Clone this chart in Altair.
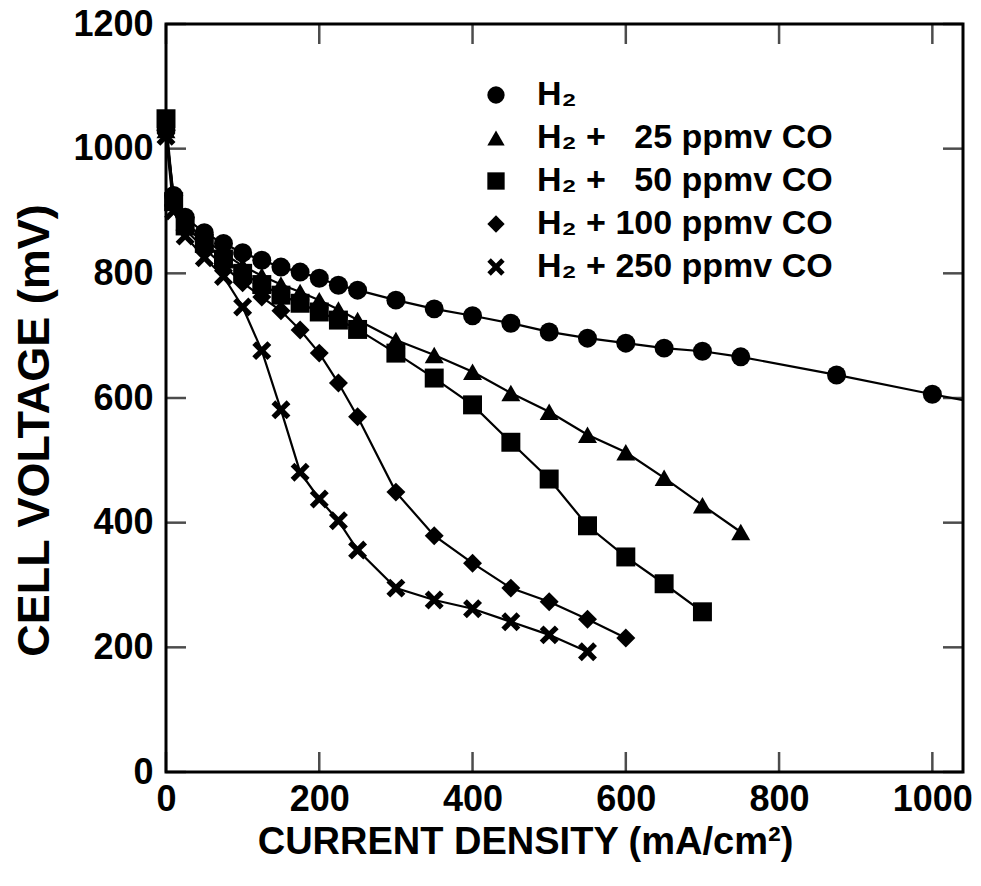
import altair as alt
import pandas as pd

# Polarisation curves: cell voltage vs current density for H2 with CO contamination
SERIES = [
    "H₂",
    "H₂ + \u200725 ppmv CO",
    "H₂ + \u200750 ppmv CO",
    "H₂ + 100 ppmv CO",
    "H₂ + 250 ppmv CO",
]

h2_x = [0, 10, 25, 50, 75, 100, 125, 150, 175, 200, 225, 250, 300, 350, 400, 450,
        500, 550, 600, 650, 700, 750, 875, 1000, 1100]
h2_y = [1030, 925, 890, 865, 848, 833, 821, 810, 802, 792, 781, 773, 757, 743, 732, 720,
        706, 696, 688, 680, 675, 666, 637, 606, 582]

co25_x = [0, 10, 25, 50, 75, 100, 125, 150, 175, 200, 225, 250, 300, 350, 400, 450,
          500, 550, 600, 650, 700, 750]
co25_y = [1030, 920, 882, 855, 832, 812, 796, 782, 770, 757, 742, 725, 693, 669, 642, 608,
          578, 541, 513, 472, 428, 385]

co50_x = [0, 10, 25, 50, 75, 100, 125, 150, 175, 200, 225, 250, 300, 350, 400, 450,
          500, 550, 600, 650, 700]
co50_y = [1048, 915, 876, 848, 823, 800, 782, 765, 752, 738, 725, 710, 672, 632, 589, 529,
          470, 395, 345, 302, 257]

co100_x = [0, 10, 25, 50, 75, 100, 125, 150, 175, 200, 225, 250, 300, 350, 400, 450,
           500, 550, 600]
co100_y = [1025, 910, 870, 840, 812, 785, 762, 740, 709, 672, 624, 570, 449, 379, 335, 295,
           273, 245, 215]

co250_x = [0, 10, 25, 50, 75, 100, 125, 150, 175, 200, 225, 250, 300, 350, 400, 450,
           500, 550]
co250_y = [1020, 900, 860, 825, 795, 746, 676, 581, 481, 438, 403, 356, 295, 276, 262, 241,
           220, 193]

x_ticks = [0, 200, 400, 600, 800, 1000]
y_ticks = [0, 200, 400, 600, 800, 1000, 1200]

X_MAX = 1040
W, H = 797, 748
FONT = "Liberation Sans"

# thick "x" marker in the unit square
X_MARK = ("M-1,-0.6L-0.6,-1L0,-0.4L0.6,-1L1,-0.6L0.4,0L1,0.6L0.6,1L0,0.4"
          "L-0.6,1L-1,0.6L-0.4,0Z")
SHAPES = ["circle", "triangle-up", "square", "diamond", X_MARK]

frames = []
for name, xs, ys in zip(SERIES, [h2_x, co25_x, co50_x, co100_x, co250_x],
                        [h2_y, co25_y, co50_y, co100_y, co250_y]):
    frames.append(pd.DataFrame({"series": name, "current": xs, "voltage": ys}))
df = pd.concat(frames, ignore_index=True)

xscale = alt.Scale(domain=[0, X_MAX], nice=False, zero=False)
yscale = alt.Scale(domain=[0, 1200], nice=False, zero=False)

x_enc = alt.X("current:Q", scale=xscale,
              axis=alt.Axis(values=x_ticks, format="d", title="CURRENT DENSITY (mA/cm²)",
                            labelPadding=10, labelFlush=False,
                            titleX=359, titleY=70, titleFontSize=38,
                            titleBaseline="middle", titleAlign="center"))
y_enc = alt.Y("voltage:Q", scale=yscale,
              axis=alt.Axis(values=y_ticks, format="d", title="CELL VOLTAGE (mV)",
                            labelPadding=13, labelFlush=False,
                            titleX=-132, titleY=406, titleFontSize=45,
                            titleBaseline="middle", titleAlign="center"))

lines = alt.Chart(df).mark_line(color="black", strokeWidth=2.2, clip=True).encode(
    x=x_enc, y=y_enc, detail="series:N", order="current:Q"
)

points = alt.Chart(df).transform_filter(
    alt.datum.current <= X_MAX
).mark_point(filled=True, color="black", opacity=1, strokeWidth=0, size=360).encode(
    x="current:Q",
    y="voltage:Q",
    shape=alt.Shape("series:N", scale=alt.Scale(domain=SERIES, range=SHAPES),
                    legend=alt.Legend(title=None, orient="none", legendX=313, legendY=54,
                                      symbolSize=300, symbolFillColor="black",
                                      symbolStrokeWidth=0, labelFont=FONT,
                                      labelFontSize=34, labelFontWeight="bold",
                                      labelColor="black", labelOffset=24,
                                      rowPadding=9, padding=0, labelLimit=500)),
)

# inward tick marks on all four sides of the frame
xt = pd.DataFrame({"current": x_ticks})
yt = pd.DataFrame({"voltage": y_ticks})
TL = 20
bottom_ticks = alt.Chart(xt).mark_tick(orient="vertical", size=TL, thickness=2.5,
                                       color="black").encode(
    x="current:Q", y=alt.value(H - TL / 2))
top_ticks = alt.Chart(xt).mark_tick(orient="vertical", size=TL, thickness=2.5,
                                    color="black").encode(
    x="current:Q", y=alt.value(TL / 2))
left_ticks = alt.Chart(yt).mark_tick(orient="horizontal", size=TL, thickness=2.5,
                                     color="black").encode(
    y="voltage:Q", x=alt.value(TL / 2))
right_ticks = alt.Chart(yt).mark_tick(orient="horizontal", size=TL, thickness=2.5,
                                      color="black").encode(
    y="voltage:Q", x=alt.value(W - TL / 2))

chart = alt.layer(lines, points, bottom_ticks, top_ticks, left_ticks, right_ticks).properties(
    width=W, height=H,
    autosize=alt.AutoSizeParams(type="none"),
    padding={"left": 166, "top": 24, "right": 18, "bottom": 114},
    background="white",
).configure_view(
    stroke="black", strokeWidth=3
).configure_axis(
    grid=False, ticks=False, domain=False,
    labelFont=FONT, labelFontSize=36, labelFontWeight="bold", labelColor="black",
    titleFont=FONT, titleFontWeight="bold", titleColor="black",
)

chart.save("out.html", embed_options={"renderer": "svg", "actions": False})
